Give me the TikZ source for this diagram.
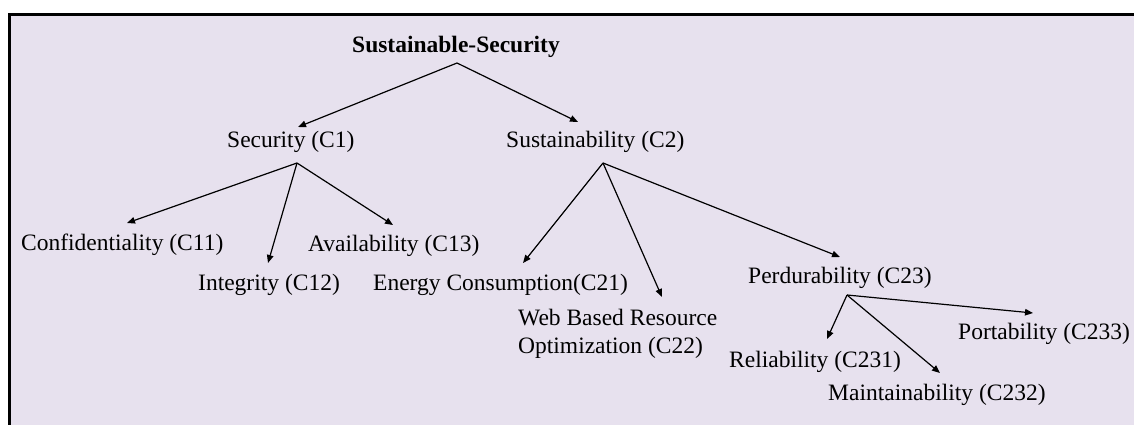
\documentclass[tikz,border=0pt]{standalone}
\usepackage{fontspec}
\setmainfont{Liberation Serif}
\usetikzlibrary{arrows.meta}
\definecolor{bglav}{RGB}{231,225,238}
\begin{document}
\begin{tikzpicture}[x=1pt,y=-1pt,
  lbl/.style={inner sep=0pt,anchor=base west,font=\fontsize{23.5}{28.2}\selectfont},
  arr/.style={line width=1.2pt,-{Triangle[length=8pt,width=6.5pt]}}]
\useasboundingbox (0,0) rectangle (1134,425);
\fill[white] (0,0) rectangle (1134,425);
\fill[bglav] (9.7,14.5) rectangle (1134,425);
\draw[line width=2.6pt] (9.7,425) -- (9.7,14.5) -- (1134,14.5);

\node[lbl,font=\fontsize{23.5}{28.2}\selectfont\bfseries] (root) at (352,53) {Sustainable-Security};
\node[lbl] (c1) at (227,147) {Security (C1)};
\node[lbl] (c2) at (506,147) {Sustainability (C2)};
\node[lbl] (c11) at (21,250) {Confidentiality (C11)};
\node[lbl] (c12) at (198,290) {Integrity (C12)};
\node[lbl] (c13) at (308,251) {Availability (C13)};
\node[lbl] (c21) at (373,290) {Energy Consumption(C21)};
\node[lbl,anchor=north west,align=left] (c22) at (518,309) {Web Based Resource\\Optimization (C22)};
\node[lbl] (c23) at (748,283) {Perdurability (C23)};
\node[lbl] (c231) at (729,367) {Reliability (C231)};
\node[lbl] (c232) at (828,400) {Maintainability (C232)};
\node[lbl] (c233) at (958,339) {Portability (C233)};

\draw[arr] ([shift={(105,10)}]root.base west) -- ([shift={(71,-20)}]c1.base west);
\draw[arr] ([shift={(105,10)}]root.base west) -- ([shift={(72,-25)}]c2.base west);

\draw[arr] ([shift={(70,16)}]c1.base west) -- ([shift={(106,-27)}]c11.base west);
\draw[arr] ([shift={(70,16)}]c1.base west) -- ([shift={(70,-27)}]c12.base west);
\draw[arr] ([shift={(70,16)}]c1.base west) -- ([shift={(85,-26)}]c13.base west);

\draw[arr] ([shift={(97,16)}]c2.base west) -- ([shift={(150,-27)}]c21.base west);
\draw[arr] ([shift={(97,16)}]c2.base west) -- ([shift={(144,-12)}]c22.north west);
\draw[arr] ([shift={(97,16)}]c2.base west) -- ([shift={(92,-26)}]c23.base west);

\draw[arr] ([shift={(99,12)}]c23.base west) -- ([shift={(98,-28)}]c231.base west);
\draw[arr] ([shift={(99,12)}]c23.base west) -- ([shift={(112,-27)}]c232.base west);
\draw[arr] ([shift={(99,12)}]c23.base west) -- ([shift={(75,-26)}]c233.base west);
\end{tikzpicture}
\end{document}
